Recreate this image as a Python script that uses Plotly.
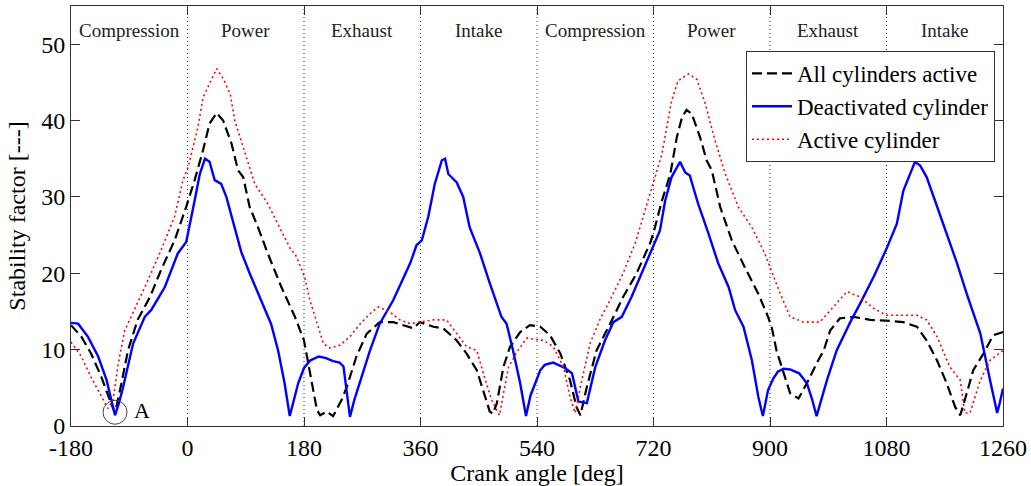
import plotly.graph_objects as go

# ---- data ----
all_x = [-180, -164, -149, -133, -120, -112, -102, -92, -77, -58, -41, -20, -2, 11, 24, 34, 45, 55, 68, 78, 86, 96, 109, 124, 145, 166, 180, 189, 200, 205, 215, 225, 238, 246, 261, 277, 297, 318, 349, 359, 380, 395, 416, 431, 447, 460, 467, 472, 478, 488, 498, 514, 529, 545, 560, 576, 591, 601, 607, 617, 632, 653, 673, 694, 715, 720, 733, 746, 756, 764, 771, 779, 792, 802, 810, 823, 841, 861, 882, 897, 903, 910, 921, 931, 944, 957, 972, 983, 993, 1008, 1029, 1055, 1080, 1106, 1127, 1142, 1158, 1173, 1186, 1194, 1204, 1214, 1230, 1245, 1260]
all_y = [13.2, 11.7, 9.5, 6.4, 3.4, 1.7, 5.6, 9.9, 13.9, 16.9, 20.4, 24.3, 28.7, 32.2, 36.1, 39.6, 41.0, 40.0, 37.0, 33.5, 32.6, 28.7, 26.0, 22.6, 18.2, 14.3, 11.2, 6.9, 2.1, 1.4, 1.9, 1.3, 3.4, 5.1, 9.1, 12.1, 13.6, 13.6, 12.8, 13.6, 13.0, 12.8, 11.2, 9.5, 7.3, 3.8, 1.9, 1.6, 3.0, 7.7, 10.3, 12.3, 13.2, 13.0, 11.9, 9.5, 6.0, 2.5, 1.4, 5.1, 9.9, 13.4, 16.9, 20.0, 24.0, 25.3, 29.5, 33.0, 37.8, 40.4, 41.4, 40.9, 37.8, 34.8, 33.5, 28.7, 24.3, 20.8, 17.3, 14.3, 12.8, 9.9, 6.9, 4.3, 3.6, 5.6, 8.2, 9.9, 12.5, 14.1, 14.3, 13.9, 13.8, 13.6, 13.0, 11.2, 8.6, 5.6, 2.5, 1.4, 4.3, 7.3, 9.5, 11.9, 12.3]

deact_x = [-180, -169, -154, -138, -125, -118, -112, -106, -100, -84, -66, -56, -35, -15, -2, 11, 19, 27, 34, 42, 52, 60, 73, 83, 96, 111, 129, 140, 150, 158, 165, 171, 180, 190, 203, 214, 225, 235, 241, 246, 251, 258, 266, 282, 297, 318, 344, 354, 362, 372, 382, 393, 398, 403, 416, 426, 436, 452, 467, 485, 493, 503, 514, 523, 530, 537, 545, 552, 565, 583, 594, 604, 617, 630, 645, 658, 671, 686, 702, 720, 730, 738, 748, 761, 769, 776, 789, 805, 820, 836, 846, 859, 872, 882, 889, 897, 905, 912, 921, 931, 945, 957, 965, 972, 980, 988, 1003, 1024, 1039, 1060, 1080, 1096, 1106, 1116, 1124, 1132, 1142, 1155, 1173, 1189, 1204, 1225, 1240, 1251, 1255, 1260]
deact_y = [13.5, 13.4, 11.7, 9.1, 6.0, 3.5, 1.4, 3.0, 4.9, 10.8, 14.3, 15.2, 18.2, 22.6, 24.1, 29.5, 33.0, 35.0, 34.6, 32.2, 31.7, 30.0, 26.0, 22.8, 20.0, 16.9, 13.4, 9.9, 5.6, 1.3, 3.8, 5.6, 7.6, 8.6, 9.1, 8.9, 8.5, 8.3, 7.8, 4.5, 1.2, 3.5, 5.6, 9.9, 13.4, 16.5, 21.3, 23.7, 24.3, 27.4, 31.7, 34.8, 35.0, 33.0, 31.9, 30.0, 26.0, 22.6, 18.7, 14.3, 13.4, 9.9, 5.6, 1.3, 4.0, 5.6, 7.3, 8.0, 8.3, 7.6, 6.9, 3.2, 3.0, 7.7, 11.2, 13.6, 14.3, 16.9, 20.0, 23.7, 25.6, 29.5, 32.6, 34.6, 33.2, 32.8, 29.1, 25.2, 21.3, 18.2, 15.2, 13.0, 8.6, 3.8, 1.3, 4.7, 6.2, 7.1, 7.5, 7.4, 6.9, 5.6, 3.5, 1.3, 3.8, 6.0, 9.9, 13.6, 16.0, 19.5, 23.2, 26.5, 30.8, 33.0, 34.6, 34.1, 32.6, 29.5, 25.2, 21.3, 17.3, 12.1, 6.0, 1.7, 3.0, 4.9]

act_x = [-180, -164, -149, -133, -123, -115, -107, -97, -82, -61, -41, -20, -7, 1, 16, 24, 35, 45, 55, 66, 73, 88, 104, 124, 145, 160, 166, 181, 189, 200, 210, 220, 236, 251, 267, 282, 295, 313, 328, 344, 359, 380, 400, 416, 431, 447, 457, 470, 482, 490, 496, 509, 524, 550, 565, 581, 591, 599, 607, 622, 637, 653, 673, 692, 720, 733, 748, 758, 774, 787, 800, 815, 831, 851, 872, 892, 900, 916, 931, 952, 977, 998, 1019, 1039, 1060, 1080, 1106, 1127, 1142, 1158, 1178, 1194, 1201, 1209, 1225, 1240, 1260]
act_y = [11.0, 9.1, 6.4, 3.8, 2.3, 3.4, 8.2, 12.5, 15.2, 19.1, 23.0, 27.4, 32.2, 33.9, 39.1, 43.0, 45.0, 46.8, 45.5, 43.5, 40.0, 36.1, 31.7, 29.1, 25.6, 23.0, 22.6, 19.5, 16.5, 13.4, 10.8, 10.2, 10.6, 11.7, 13.4, 14.7, 15.6, 14.9, 13.9, 13.4, 13.6, 13.9, 13.9, 12.1, 10.4, 9.9, 6.9, 3.4, 1.4, 5.1, 7.7, 9.7, 11.5, 11.2, 10.4, 7.7, 3.8, 1.7, 5.1, 10.8, 13.9, 16.5, 20.0, 24.0, 31.7, 35.6, 42.6, 45.2, 46.1, 45.4, 42.2, 37.4, 33.0, 28.7, 26.0, 22.6, 20.8, 17.3, 14.3, 13.6, 13.6, 15.6, 17.6, 16.9, 15.4, 14.5, 14.5, 14.5, 13.9, 11.7, 7.7, 6.0, 1.7, 1.7, 6.0, 8.6, 9.9]

phase_names = ["Compression", "Power", "Exhaust", "Intake", "Compression", "Power", "Exhaust", "Intake"]
phase_centers = [-90, 90, 270, 450, 630, 810, 990, 1170]
phase_bounds = [0, 180, 360, 540, 720, 900, 1080]
x_ticks = [-180, 0, 180, 360, 540, 720, 900, 1080, 1260]
y_ticks = [0, 10, 20, 30, 40, 50]
point_a = (-112, 1.8)

SERIF = "Liberation Serif"

fig = go.Figure()
fig.add_trace(go.Scatter(x=all_x, y=all_y, mode="lines", name="All cylinders active",
                         line=dict(color="black", width=2.2, dash="10px,5px")))
fig.add_trace(go.Scatter(x=deact_x, y=deact_y, mode="lines", name="Deactivated cylinder",
                         line=dict(color="#0000ff", width=2.4)))
fig.add_trace(go.Scatter(x=act_x, y=act_y, mode="lines", name="Active cylinder",
                         line=dict(color="#ff0000", width=1.6, dash="2px,3px")))

shapes = []
for b in phase_bounds:
    shapes.append(dict(type="line", xref="x", yref="paper", x0=b, x1=b, y0=0, y1=1,
                       line=dict(color="#333333", width=1, dash="1px,3px"), layer="below"))
shapes.append(dict(type="circle", xref="x", yref="y", xsizemode="pixel", ysizemode="pixel",
                   xanchor=point_a[0], yanchor=point_a[1], x0=-12, x1=12, y0=-12, y1=12,
                   line=dict(color="#444444", width=1)))

annotations = []
for name, c in zip(phase_names, phase_centers):
    annotations.append(dict(x=c, y=51.8, xref="x", yref="y", text=name, showarrow=False,
                            font=dict(family=SERIF, size=19, color="#222222")))
annotations.append(dict(x=point_a[0], y=point_a[1], xref="x", yref="y", text="A", showarrow=False,
                        xshift=27, yshift=2, font=dict(family=SERIF, size=22, color="black")))

fig.update_layout(
    width=1031, height=486,
    margin=dict(l=71, r=28, t=6, b=60),
    paper_bgcolor="white", plot_bgcolor="white",
    font=dict(family=SERIF, size=24, color="black"),
    shapes=shapes, annotations=annotations,
    legend=dict(x=0.9914, y=0.893, xanchor="right", yanchor="top",
                bgcolor="white", bordercolor="#333333", borderwidth=1,
                font=dict(family=SERIF, size=23, color="black"),
                tracegroupgap=0, itemwidth=40),
    showlegend=True,
)
fig.update_xaxes(range=[-180, 1260], tickvals=x_ticks, ticktext=[str(v) for v in x_ticks],
                 showgrid=False, zeroline=False, showline=True, linecolor="#333333", linewidth=1,
                 mirror="ticks", ticks="inside", ticklen=9, tickcolor="#333333",
                 title=dict(text="Crank angle [deg]", standoff=4, font=dict(family=SERIF, size=24)),
                 tickfont=dict(family=SERIF, size=24), automargin=False)
fig.update_yaxes(range=[0, 55], tickvals=y_ticks, ticktext=[str(v) for v in y_ticks],
                 showgrid=False, zeroline=False, showline=True, linecolor="#333333", linewidth=1,
                 mirror="ticks", ticks="inside", ticklen=9, tickcolor="#333333",
                 title=dict(text="Stability factor [---]", standoff=8, font=dict(family=SERIF, size=24)),
                 tickfont=dict(family=SERIF, size=24), automargin=False)

fig.write_html("out.html", config={"displayModeBar": False},
               post_script="document.body.style.margin='0';document.body.style.padding='0';")
